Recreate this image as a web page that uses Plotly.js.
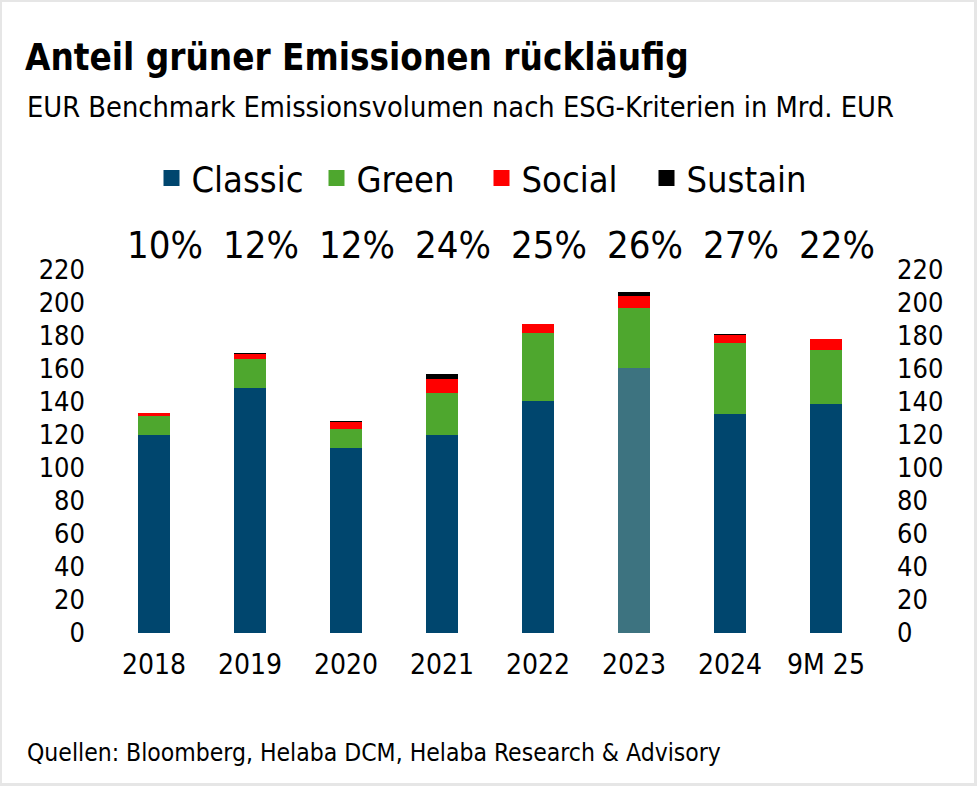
<!DOCTYPE html>
<html>
<head>
<meta charset="utf-8">
<script src="https://cdn.plot.ly/plotly-3.0.1.min.js"></script>
<style>
html,body{margin:0;padding:0;background:#fff;}
#wrap{position:absolute;left:0;top:0;width:977px;height:786px;box-sizing:border-box;border-top:2px solid #e6e6e6;border-left:2px solid #e6e6e6;border-right:3px solid #e6e6e6;border-bottom:3px solid #e6e6e6;}
#chart{position:absolute;left:-2px;top:-2px;width:977px;height:786px;}
</style>
</head>
<body>
<div id="wrap"><div id="chart"></div></div>
<script>
const categories = ["2018","2019","2020","2021","2022","2023","2024","9M 25"];
const classic = [120.0, 148.7, 112.3, 120.0, 140.8, 160.4, 132.9, 139.0];
const green   = [11.7, 17.6, 11.1, 25.3, 41.0, 36.4, 42.7, 32.5];
const social  = [1.4, 3.0, 4.5, 8.9, 5.3, 7.6, 4.8, 6.7];
const sustain = [0.5, 0.4, 0.6, 3.0, 0.3, 2.1, 0.8, 0.0];
const shareLabels = ["10%","12%","12%","24%","25%","26%","27%","22%"];
const yTicks = [0,20,40,60,80,100,120,140,160,180,200,220];
const highlightCategory = "2023";

const FONT = "DejaVu Sans Condensed, DejaVu Sans, sans-serif";
const cClassic = "#00466e", cHighlight = "#3d7380";
const classicColors = categories.map(c => c === highlightCategory ? cHighlight : cClassic);

const series = [
  {name:"Classic", y:classic, color:classicColors, legendColor:cClassic},
  {name:"Green", y:green, color:"#4ea72e", legendColor:"#4ea72e"},
  {name:"Social", y:social, color:"#ff0000", legendColor:"#ff0000"},
  {name:"Sustain", y:sustain, color:"#000000", legendColor:"#000000"}
];

const traces = [];
series.forEach(s => {
  traces.push({type:"bar", name:s.name, x:categories, y:s.y, marker:{color:s.color},
               showlegend:false, legendgroup:s.name, hoverinfo:"skip"});
});
series.forEach(s => {
  traces.push({type:"scatter", mode:"markers", name:s.name, x:[null], y:[null],
               marker:{symbol:"square", size:16, color:s.legendColor}, legendgroup:s.name,
               showlegend:true, hoverinfo:"skip"});
});
// invisible trace so the mirrored right-hand axis is drawn
traces.push({type:"scatter", mode:"none", x:categories, y:classic, yaxis:"y2",
             showlegend:false, hoverinfo:"skip"});

const annotations = shareLabels.map((t,i) => ({
  text:t, x:i, xref:"x", y:1, yref:"paper", yanchor:"middle",
  yshift:25, xshift:11, showarrow:false, font:{family:FONT, size:38, color:"#000"}
}));
annotations.push({
  text:"EUR Benchmark Emissionsvolumen nach ESG-Kriterien in Mrd. EUR",
  xref:"paper", yref:"paper", x:(25-106)/768, xanchor:"left", y:1, yanchor:"middle",
  yshift:163, showarrow:false, font:{family:FONT, size:28.7, color:"#000"}
});
annotations.push({
  text:"Quellen: Bloomberg, Helaba DCM, Helaba Research &amp; Advisory",
  xref:"paper", yref:"paper", x:(25-106)/768, xanchor:"left", y:0, yanchor:"middle",
  yshift:-119, showarrow:false, font:{family:FONT, size:24.5, color:"#000"}
});

const axisCommon = {
  range:[0,220], autorange:false, tickmode:"array", tickvals:yTicks, ticktext:yTicks.map(String), showgrid:false, zeroline:false,
  showline:false, ticks:"", tickfont:{family:FONT, size:27, color:"#000"}, fixedrange:true
};

const layout = {
  width:977, height:786,
  paper_bgcolor:"rgba(0,0,0,0)", plot_bgcolor:"rgba(0,0,0,0)",
  margin:{l:106, r:103, t:270, b:153, pad:0},
  barmode:"stack", bargap:0.667,
  title:{text:"<b>Anteil grüner Emissionen rückläufig</b>", x:25/977, xanchor:"left", xref:"container",
         y:1-57/786, yanchor:"middle", yref:"container", font:{family:FONT, size:36.5, color:"#000"}},
  xaxis:{type:"category", categoryorder:"array", categoryarray:categories, range:[-0.5, categories.length-0.5],
         autorange:false, tickfont:{family:FONT, size:28, color:"#000"}, ticks:"", showline:false, showgrid:false,
         zeroline:false, ticklabelstandoff:12, fixedrange:true},
  yaxis:Object.assign({}, axisCommon, {side:"left", ticklabelstandoff:20}),
  yaxis2:Object.assign({}, axisCommon, {side:"right", overlaying:"y", anchor:"x", ticklabelstandoff:22}),
  legend:{orientation:"h", x:0.5-((106-103)/2 + 7)/768, xanchor:"center", y:1 + 92/363, yanchor:"middle", yref:"paper",
          font:{family:FONT, size:36, color:"#000"}, traceorder:"normal", itemwidth:30,
          entrywidth:120, entrywidthmode:"pixels", bgcolor:"rgba(0,0,0,0)"},
  showlegend:true,
  annotations:annotations
};

Plotly.newPlot("chart", traces, layout, {displayModeBar:false, staticPlot:true});
</script>
</body>
</html>
